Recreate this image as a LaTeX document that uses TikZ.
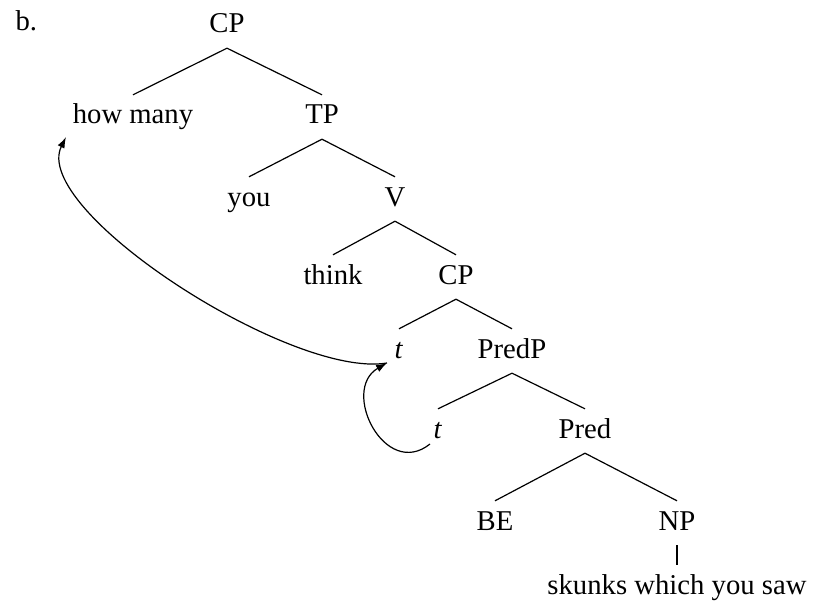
\documentclass[tikz,border=0pt]{standalone}
\usepackage{fontspec}
\setmainfont{Liberation Serif}
\usetikzlibrary{arrows.meta}

\begin{document}
\begin{tikzpicture}
[x=1pt,y=-1pt,
  nodeDecorate/.style={anchor=base,inner xsep=0pt,inner ysep=9pt,%
    text height=20pt,text depth=6pt,font=\fontsize{28.7}{34}\selectfont},%
  lineDecorate/.style={-,line width=1.2pt},%
  moveDecorate/.style={-{Latex[length=11pt,width=7.5pt]},line width=1.2pt}]
\useasboundingbox (0,0) rectangle (813,607);
\node[anchor=base west,font=\fontsize{28.7}{34}\selectfont] (item) at (12,31) {b.};
%% nodes of the tree
\foreach \nodename/\x/\y/\word in {
  cpa/227/33/CP, hm/133/124/how many, tp/322/124/TP,
  you/249/206/you, v/395/206/V, think/333/284/think, cpb/456/284/CP,
  ta/399/358/\textit{t}, predp/512/358/PredP,
  tb/438/438/\textit{t}, pred/585/438/Pred,
  be/495/530/BE, np/677/530/NP, skunks/677/594/skunks which you saw}
{
  \node (\nodename) at (\x,\y) [nodeDecorate] {\word};
}
%% branches
\path
\foreach \startnode/\endnode in {cpa/hm, cpa/tp, tp/you, tp/v, v/think, v/cpb,
  cpb/ta, cpb/predp, predp/tb, predp/pred, pred/be, pred/np, np/skunks}
{
  (\startnode.south) edge[lineDecorate] (\endnode.north)
};
%% movement arrows
\coordinate (tbtail) at ([xshift=-8pt,yshift=-6pt]tb.base);
\coordinate (tahead) at ([xshift=-12pt,yshift=-5pt]ta.base);
\coordinate (hmhead) at ([xshift=-67pt,yshift=-13pt]hm.base);
\draw[moveDecorate] (tbtail) .. controls +(-45,36) and +(-47,27) .. (tahead);
\draw[moveDecorate] (tahead) .. controls +(-96,16) and +(-36,73) .. (hmhead);
\end{tikzpicture}
\end{document}
